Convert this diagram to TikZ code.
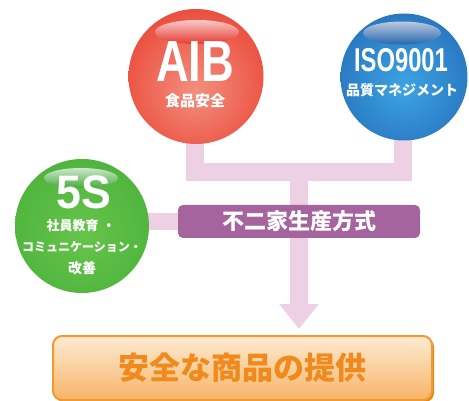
\documentclass[tikz,border=0pt]{standalone}
\usepackage{fontspec}
\setmainfont{Liberation Sans}
\newfontfamily\jp{Noto Sans CJK JP}
\usetikzlibrary{arrows.meta}
\pgfdeclarelayer{bg}
\pgfsetlayers{bg,main}
\definecolor{pinkbar}{HTML}{EDD0E3}
\definecolor{purplebox}{HTML}{A6649F}
\definecolor{redout}{HTML}{E3261E}
\definecolor{redmid}{HTML}{EC5444}
\definecolor{redin}{HTML}{F3907E}
\definecolor{blueout}{HTML}{1E4C98}
\definecolor{bluemid}{HTML}{2A7AC2}
\definecolor{bluein}{HTML}{3CA4E4}
\definecolor{greenout}{HTML}{38A033}
\definecolor{greenmid}{HTML}{4FB43D}
\definecolor{greenin}{HTML}{66C44A}
\definecolor{orgtop}{HTML}{FDEBD2}
\definecolor{orgbot}{HTML}{F6B468}
\definecolor{orgline}{HTML}{F29A2E}
\definecolor{orgshadow}{HTML}{E0861C}
\definecolor{orgtext}{HTML}{F08A1C}
\pgfdeclareradialshading{redball}{\pgfpoint{0bp}{-6bp}}{color(0bp)=(redin); color(26bp)=(redmid); color(46bp)=(redout); color(60bp)=(redout)}
\pgfdeclareradialshading{blueball}{\pgfpoint{0bp}{-4bp}}{color(0bp)=(bluein); color(26bp)=(bluemid); color(48bp)=(blueout); color(60bp)=(blueout)}
\pgfdeclareradialshading{greenball}{\pgfpoint{0bp}{-4bp}}{color(0bp)=(greenin); color(28bp)=(greenmid); color(50bp)=(greenout); color(60bp)=(greenout)}
\tikzset{
  ball/.style={circle, minimum size=#1, inner sep=0pt},
  pinkline/.style={draw=pinkbar, line width=18pt},
  jptext/.style={text=white, font=\jp\bfseries\fontsize{#1}{#1}\selectfont, inner sep=0pt},
  bigtext/.style={text=white, font=\bfseries\fontsize{#1}{#1}\selectfont, inner sep=0pt, anchor=base}
}
\begin{document}
\begin{tikzpicture}[x=1pt,y=-1pt]
\useasboundingbox (0,0) rectangle (469,401);
\coordinate (hub) at (299,172);
% balls
\node[ball=135pt, shading=redball] (aib) at (196,76.5) {};
\node[ball=127pt, shading=blueball] (iso) at (404,77) {};
\node[ball=134pt, shading=greenball] (fives) at (82,226) {};
% highlights
\path[shade, top color=white!75!redout, bottom color=redout!80!redin] (197,32) ellipse[x radius=42pt, y radius=12pt];
\path[shade, top color=white!70!blueout, bottom color=blueout!70!bluein] (402,33) ellipse[x radius=39pt, y radius=11.5pt];
\path[shade, top color=white!75!greenout, bottom color=greenout!70!greenin] (81,178) ellipse[x radius=37pt, y radius=10pt];
% purple box
\node[fill=purplebox, rounded corners=5pt, minimum width=242pt, minimum height=33pt, inner sep=0pt,
      text=white, font=\jp\bfseries\fontsize{22}{22}\selectfont] (fujiya) at (299,221.5) {不二家生産方式};
% orange box
\path[fill=orgshadow, rounded corners=9pt] (55,338) rectangle (434,402);
\node[minimum width=379pt, minimum height=64pt, inner sep=0pt, top color=orgtop, bottom color=orgbot,
      draw=orgline, line width=2pt, rounded corners=9pt, text=orgtext,
      font=\jp\bfseries\fontsize{31}{31}\selectfont] (result) at (242.5,368) {安全な商品の提供};
% connectors behind
\begin{pgfonlayer}{bg}
\draw[pinkline, line join=miter] ([xshift=-1pt]aib.center) |- (hub) -| ([xshift=-1pt]iso.center);
\draw[pinkline, -{Triangle[width=38pt,length=25pt]}, shorten >=6pt] (hub) -- (hub |- result.north);
\draw[draw=pinkbar, line width=17pt] (fives.center |- fujiya.west) -- (fujiya.west);
\end{pgfonlayer}
% ball texts
\node[bigtext=58] (aibt) at (195,82) {\scalebox{0.78}[1]{AIB}};
\node[jptext=15] (aibs) at (195,101) {食品安全};
\node[bigtext=33] (isot) at (401,72) {\scalebox{0.72}[1]{ISO9001}};
\node[jptext=14] (isos) at (402,90) {品質マネジメント};
\node[bigtext=47] (fivest) at (83.5,208) {\scalebox{0.95}[1]{5S}};
\node[jptext=13] (fives1) at (81,226) {社員教育\hspace{4pt}・};
\node[jptext=12] (fives2) at (82,247) {コミュニケーション・};
\node[jptext=14] (fives3) at (82,268) {改善};
\end{tikzpicture}
\end{document}
